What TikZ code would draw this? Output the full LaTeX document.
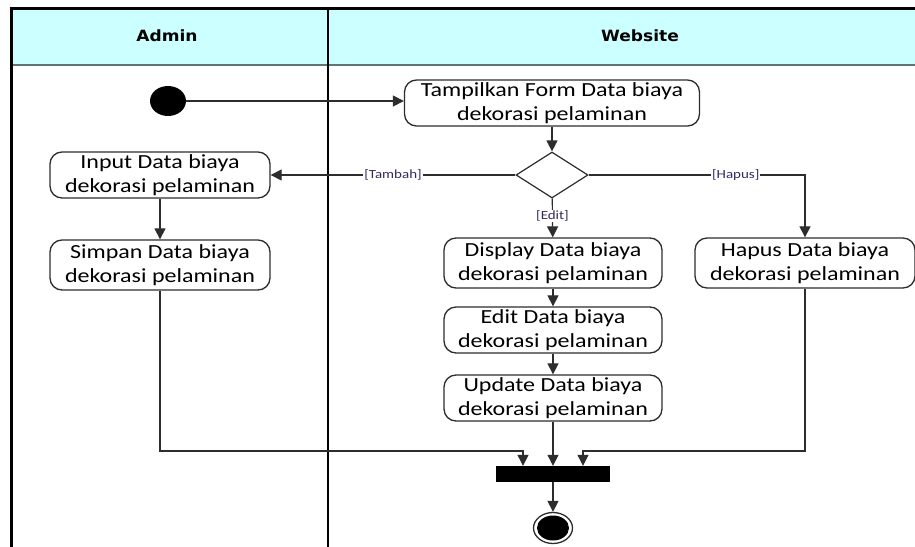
\documentclass[tikz,border=0pt]{standalone}
\usepackage{fontspec}
\setmainfont{Carlito}[FakeStretch=1.2]
\newfontfamily\headfont{DejaVu Sans}[FakeStretch=1.1]
\usetikzlibrary{arrows.meta,shapes.geometric,positioning}
\definecolor{lanehead}{RGB}{204,255,255}
\definecolor{laneline}{RGB}{95,115,115}
\definecolor{flowclr}{RGB}{45,45,45}
\definecolor{guardclr}{RGB}{55,40,95}
\tikzset{
  act/.style={draw=flowclr, line width=1.3pt, rounded corners=12pt, fill=white,
    minimum width=220pt, minimum height=48pt, align=center, inner sep=2pt,
    font=\fontsize{20}{24}\selectfont},
  flow/.style={draw=flowclr, line width=1.2pt, -{Triangle[length=11pt,width=11pt]}},
  guard/.style={fill=white, inner sep=1pt, text=guardclr, font=\fontsize{12.5}{14}\selectfont},
  lanetitle/.style={font=\headfont\bfseries\fontsize{15.5}{18}\selectfont},
}
\begin{document}
\begin{tikzpicture}[x=1pt,y=-1pt]
            \useasboundingbox (0,0) rectangle (915,546);
            \clip (0,0) rectangle (915,546);
            \fill[white] (0,0) rectangle (915,546);
            \fill[lanehead] (11,8) rectangle (930,65);
            \draw[laneline, line width=2.2pt] (11,65) -- (930,65);
            \draw[line width=3pt] (9.5,8) -- (930,8);
            \draw[line width=3pt] (11,8) -- (11,560);
            \draw[line width=1.4pt] (328,8) -- (328,560);
            \node[lanetitle] (admin) at (167,36) {Admin};
            \node[lanetitle] (website) at (640,36) {Website};
            \node[ellipse, fill=black, minimum width=36pt, minimum height=30pt, inner sep=0pt] (start) at (168,101) {};
            \node[act, minimum width=295pt, minimum height=46pt] (tampil) at (552,103) {Tampilkan Form Data biaya\\dekorasi pelaminan};
            \node[diamond, draw=flowclr, line width=1.2pt, fill=white, minimum width=72pt, minimum height=46pt, inner sep=0pt] (pilih) at (552,175) {};
            \node[act, minimum height=46pt] (input) at (160,175) {Input Data biaya\\dekorasi pelaminan};
            \node[act, minimum height=50pt] (simpan) at (160,265) {Simpan Data biaya\\dekorasi pelaminan};
            \node[act, minimum width=218pt, minimum height=50pt] (display) at (553,263) {Display Data biaya\\dekorasi pelaminan};
            \node[act, minimum height=50pt] (hapus) at (805,263) {Hapus Data biaya\\dekorasi pelaminan};
            \node[act, minimum width=218pt, minimum height=46pt] (edit) at (553,330) {Edit Data biaya\\dekorasi pelaminan};
            \node[act, minimum width=218pt, minimum height=46pt] (update) at (553,398) {Update Data biaya\\dekorasi pelaminan};
            \node[fill=black, minimum width=114pt, minimum height=16pt, inner sep=0pt] (gabung) at (553,474) {};
            \node[ellipse, draw=flowclr, line width=1.3pt, minimum width=39pt, minimum height=31pt, inner sep=0pt] (akhir) at (553,528) {};
            \node[ellipse, fill=black, minimum width=32pt, minimum height=25pt, inner sep=0pt] (akhirdot) at (akhir) {};
            \coordinate (masukL) at (523,451);
            \coordinate (masukR) at (583,451);
            \draw[flow] (start) -- (start -| tampil.west);
            \draw[flow] (tampil) -- (pilih);
            \draw[flow] (pilih.west) -- node[guard] {[Tambah]} (input);
            \draw[flow] (pilih.east) -| node[guard, pos=0.34] {[Hapus]} (hapus);
            \draw[flow] (pilih) -- node[guard, pos=0.45] {[Edit]} (display);
            \draw[flow] (input) -- (simpan);
            \draw[flow] (display) -- (edit);
            \draw[flow] (edit) -- (update);
            \draw[flow] (update) -- (gabung);
            \draw[flow] (simpan.south) |- (masukL) -- (masukL |- gabung.north);
            \draw[flow] (hapus.south) |- (masukR) -- (masukR |- gabung.north);
            \draw[flow] (gabung) -- (akhir);
        \end{tikzpicture}
\end{document}
